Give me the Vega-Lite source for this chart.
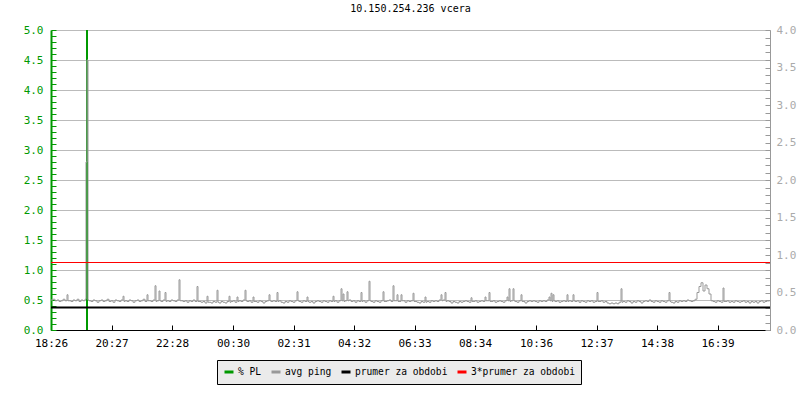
{
"$schema":"https://vega.github.io/schema/vega-lite/v6.json",
"width":719,"height":300,
"autosize":{"type":"none"},
"padding":{"left":51,"top":30,"right":30,"bottom":70},
"background":"white",
"title":{"text":"10.150.254.236 vcera","font":"DejaVu Sans Mono","fontSize":10,"fontWeight":"normal","color":"#000000","offset":10,"frame":"group","anchor":"middle"},
"config":{"view":{"stroke":null},"font":"DejaVu Sans Mono","axis":{"labelFont":"DejaVu Sans Mono","labelFontSize":10,"title":null}},
"datasets":{"ping":[
{"m":0,"p":0.40},{"m":4,"p":0.41},{"m":8,"p":0.39},{"m":12,"p":0.40},{"m":16,"p":0.38},{"m":20,"p":0.39},{"m":24,"p":0.41},{"m":28,"p":0.39},{"m":32,"p":0.47},{"m":36,"p":0.39},
{"m":40,"p":0.38},{"m":44,"p":0.40},{"m":48,"p":0.39},{"m":52,"p":0.41},{"m":56,"p":0.38},{"m":60,"p":0.40},{"m":64,"p":0.39},{"m":68,"p":0.41},{"m":70,"p":2.24},{"m":72,"p":3.6},{"m":74,"p":0.40},{"m":76,"p":0.39},
{"m":80,"p":0.38},{"m":84,"p":0.40},{"m":88,"p":0.39},{"m":92,"p":0.37},{"m":96,"p":0.39},{"m":100,"p":0.40},{"m":104,"p":0.38},{"m":108,"p":0.39},{"m":112,"p":0.41},{"m":116,"p":0.38},
{"m":120,"p":0.39},{"m":124,"p":0.37},{"m":128,"p":0.40},{"m":132,"p":0.39},{"m":136,"p":0.38},{"m":140,"p":0.40},{"m":144,"p":0.45},{"m":148,"p":0.39},{"m":152,"p":0.38},{"m":156,"p":0.40},
{"m":160,"p":0.39},{"m":164,"p":0.37},{"m":168,"p":0.39},{"m":172,"p":0.40},{"m":176,"p":0.38},{"m":180,"p":0.39},{"m":184,"p":0.41},{"m":188,"p":0.38},{"m":192,"p":0.47},{"m":196,"p":0.39},
{"m":200,"p":0.38},{"m":204,"p":0.40},{"m":208,"p":0.59},{"m":212,"p":0.39},{"m":216,"p":0.52},{"m":220,"p":0.38},{"m":224,"p":0.40},{"m":228,"p":0.50},{"m":232,"p":0.39},{"m":236,"p":0.38},
{"m":240,"p":0.40},{"m":244,"p":0.39},{"m":248,"p":0.38},{"m":252,"p":0.40},{"m":256,"p":0.67},{"m":260,"p":0.39},{"m":264,"p":0.38},{"m":268,"p":0.39},{"m":272,"p":0.37},{"m":276,"p":0.39},
{"m":280,"p":0.38},{"m":284,"p":0.40},{"m":288,"p":0.38},{"m":292,"p":0.58},{"m":296,"p":0.38},{"m":300,"p":0.37},{"m":304,"p":0.38},{"m":308,"p":0.36},{"m":312,"p":0.45},{"m":316,"p":0.37},
{"m":320,"p":0.36},{"m":324,"p":0.38},{"m":328,"p":0.37},{"m":332,"p":0.53},{"m":336,"p":0.36},{"m":340,"p":0.38},{"m":344,"p":0.37},{"m":348,"p":0.36},{"m":352,"p":0.38},{"m":356,"p":0.45},
{"m":360,"p":0.38},{"m":364,"p":0.39},{"m":368,"p":0.37},{"m":372,"p":0.44},{"m":376,"p":0.39},{"m":380,"p":0.38},{"m":384,"p":0.40},{"m":388,"p":0.53},{"m":392,"p":0.38},{"m":396,"p":0.39},
{"m":400,"p":0.37},{"m":404,"p":0.44},{"m":408,"p":0.38},{"m":412,"p":0.37},{"m":416,"p":0.39},{"m":420,"p":0.38},{"m":424,"p":0.36},{"m":428,"p":0.38},{"m":432,"p":0.39},{"m":436,"p":0.47},
{"m":440,"p":0.38},{"m":444,"p":0.39},{"m":448,"p":0.38},{"m":452,"p":0.50},{"m":456,"p":0.39},{"m":460,"p":0.37},{"m":464,"p":0.36},{"m":468,"p":0.38},{"m":472,"p":0.37},{"m":476,"p":0.39},
{"m":480,"p":0.38},{"m":484,"p":0.37},{"m":488,"p":0.39},{"m":492,"p":0.51},{"m":496,"p":0.38},{"m":500,"p":0.37},{"m":504,"p":0.39},{"m":508,"p":0.38},{"m":512,"p":0.44},{"m":516,"p":0.37},
{"m":520,"p":0.38},{"m":524,"p":0.36},{"m":528,"p":0.38},{"m":532,"p":0.39},{"m":536,"p":0.38},{"m":540,"p":0.37},{"m":544,"p":0.39},{"m":548,"p":0.38},{"m":552,"p":0.37},{"m":556,"p":0.39},
{"m":560,"p":0.38},{"m":564,"p":0.45},{"m":568,"p":0.39},{"m":572,"p":0.37},{"m":576,"p":0.39},{"m":580,"p":0.55},{"m":584,"p":0.48},{"m":588,"p":0.39},{"m":592,"p":0.51},{"m":596,"p":0.40},
{"m":600,"p":0.38},{"m":604,"p":0.39},{"m":608,"p":0.37},{"m":612,"p":0.39},{"m":616,"p":0.38},{"m":620,"p":0.50},{"m":624,"p":0.39},{"m":628,"p":0.37},{"m":632,"p":0.39},{"m":636,"p":0.65},
{"m":640,"p":0.38},{"m":644,"p":0.37},{"m":648,"p":0.39},{"m":652,"p":0.38},{"m":656,"p":0.37},{"m":660,"p":0.39},{"m":664,"p":0.51},{"m":668,"p":0.38},{"m":672,"p":0.39},{"m":676,"p":0.40},
{"m":680,"p":0.38},{"m":684,"p":0.59},{"m":688,"p":0.39},{"m":692,"p":0.47},{"m":696,"p":0.38},{"m":700,"p":0.47},{"m":704,"p":0.39},{"m":708,"p":0.37},{"m":712,"p":0.39},{"m":716,"p":0.38},
{"m":720,"p":0.39},{"m":724,"p":0.49},{"m":728,"p":0.38},{"m":732,"p":0.37},{"m":736,"p":0.36},{"m":740,"p":0.38},{"m":744,"p":0.37},{"m":748,"p":0.44},{"m":752,"p":0.38},{"m":756,"p":0.37},
{"m":760,"p":0.39},{"m":764,"p":0.38},{"m":768,"p":0.39},{"m":772,"p":0.38},{"m":776,"p":0.40},{"m":780,"p":0.47},{"m":784,"p":0.40},{"m":788,"p":0.50},{"m":792,"p":0.39},{"m":796,"p":0.38},
{"m":800,"p":0.36},{"m":804,"p":0.38},{"m":808,"p":0.37},{"m":812,"p":0.36},{"m":816,"p":0.38},{"m":820,"p":0.37},{"m":824,"p":0.38},{"m":828,"p":0.39},{"m":832,"p":0.38},{"m":836,"p":0.37},
{"m":840,"p":0.43},{"m":844,"p":0.38},{"m":848,"p":0.39},{"m":852,"p":0.37},{"m":856,"p":0.38},{"m":860,"p":0.39},{"m":864,"p":0.38},{"m":868,"p":0.44},{"m":872,"p":0.39},{"m":876,"p":0.50},
{"m":880,"p":0.38},{"m":884,"p":0.39},{"m":888,"p":0.37},{"m":892,"p":0.38},{"m":896,"p":0.39},{"m":900,"p":0.38},{"m":904,"p":0.37},{"m":908,"p":0.39},{"m":912,"p":0.44},{"m":916,"p":0.55},
{"m":920,"p":0.39},{"m":924,"p":0.55},{"m":928,"p":0.38},{"m":932,"p":0.37},{"m":936,"p":0.39},{"m":940,"p":0.47},{"m":944,"p":0.38},{"m":948,"p":0.36},{"m":952,"p":0.38},{"m":956,"p":0.39},
{"m":960,"p":0.38},{"m":964,"p":0.39},{"m":968,"p":0.38},{"m":972,"p":0.37},{"m":976,"p":0.39},{"m":980,"p":0.38},{"m":984,"p":0.39},{"m":988,"p":0.38},{"m":992,"p":0.40},{"m":996,"p":0.44},
{"m":1000,"p":0.49},{"m":1004,"p":0.47},{"m":1008,"p":0.38},{"m":1012,"p":0.39},{"m":1016,"p":0.37},{"m":1020,"p":0.38},{"m":1024,"p":0.39},{"m":1028,"p":0.38},{"m":1032,"p":0.47},{"m":1036,"p":0.39},
{"m":1040,"p":0.38},{"m":1044,"p":0.47},{"m":1048,"p":0.38},{"m":1052,"p":0.39},{"m":1056,"p":0.37},{"m":1060,"p":0.39},{"m":1064,"p":0.38},{"m":1068,"p":0.37},{"m":1072,"p":0.39},{"m":1076,"p":0.38},
{"m":1080,"p":0.39},{"m":1084,"p":0.37},{"m":1088,"p":0.38},{"m":1092,"p":0.50},{"m":1096,"p":0.38},{"m":1100,"p":0.39},{"m":1104,"p":0.37},{"m":1108,"p":0.38},{"m":1112,"p":0.36},{"m":1116,"p":0.35},
{"m":1120,"p":0.36},{"m":1124,"p":0.35},{"m":1128,"p":0.36},{"m":1132,"p":0.35},{"m":1136,"p":0.37},{"m":1140,"p":0.55},{"m":1144,"p":0.38},{"m":1148,"p":0.37},{"m":1152,"p":0.39},{"m":1156,"p":0.38},
{"m":1160,"p":0.36},{"m":1164,"p":0.38},{"m":1168,"p":0.37},{"m":1172,"p":0.39},{"m":1176,"p":0.38},{"m":1180,"p":0.36},{"m":1184,"p":0.38},{"m":1188,"p":0.39},{"m":1192,"p":0.38},{"m":1196,"p":0.40},
{"m":1200,"p":0.38},{"m":1204,"p":0.37},{"m":1208,"p":0.39},{"m":1212,"p":0.38},{"m":1216,"p":0.37},{"m":1220,"p":0.39},{"m":1224,"p":0.38},{"m":1228,"p":0.37},{"m":1232,"p":0.39},{"m":1236,"p":0.50},
{"m":1240,"p":0.37},{"m":1244,"p":0.36},{"m":1248,"p":0.38},{"m":1252,"p":0.37},{"m":1256,"p":0.39},{"m":1260,"p":0.38},{"m":1264,"p":0.39},{"m":1268,"p":0.38},{"m":1272,"p":0.40},{"m":1276,"p":0.39},
{"m":1280,"p":0.38},{"m":1284,"p":0.39},{"m":1288,"p":0.41},{"m":1292,"p":0.50},{"m":1296,"p":0.58},{"m":1300,"p":0.63},{"m":1304,"p":0.52},{"m":1308,"p":0.60},{"m":1312,"p":0.55},{"m":1316,"p":0.48},
{"m":1320,"p":0.39},{"m":1324,"p":0.38},{"m":1328,"p":0.37},{"m":1332,"p":0.39},{"m":1336,"p":0.38},{"m":1340,"p":0.37},{"m":1344,"p":0.56},{"m":1348,"p":0.38},{"m":1352,"p":0.39},{"m":1356,"p":0.37},
{"m":1360,"p":0.38},{"m":1364,"p":0.37},{"m":1368,"p":0.39},{"m":1372,"p":0.38},{"m":1376,"p":0.37},{"m":1380,"p":0.38},{"m":1384,"p":0.39},{"m":1388,"p":0.37},{"m":1392,"p":0.38},{"m":1396,"p":0.36},
{"m":1400,"p":0.38},{"m":1404,"p":0.37},{"m":1408,"p":0.38},{"m":1412,"p":0.36},{"m":1416,"p":0.38},{"m":1420,"p":0.39},{"m":1424,"p":0.37},{"m":1428,"p":0.38},{"m":1432,"p":0.39},{"m":1436,"p":0.38},
{"m":34,"p":0.39},{"m":146,"p":0.38},{"m":194,"p":0.39},{"m":210,"p":0.38},{"m":218,"p":0.39},{"m":230,"p":0.38},{"m":258,"p":0.39},{"m":294,"p":0.38},{"m":314,"p":0.37},{"m":334,"p":0.37},
{"m":358,"p":0.37},{"m":374,"p":0.38},{"m":390,"p":0.39},{"m":406,"p":0.38},{"m":438,"p":0.39},{"m":454,"p":0.38},{"m":494,"p":0.39},{"m":514,"p":0.38},{"m":566,"p":0.38},{"m":582,"p":0.39},
{"m":586,"p":0.38},{"m":594,"p":0.39},{"m":622,"p":0.38},{"m":638,"p":0.39},{"m":666,"p":0.38},{"m":686,"p":0.39},{"m":694,"p":0.38},{"m":702,"p":0.39},{"m":726,"p":0.38},{"m":750,"p":0.37},
{"m":782,"p":0.39},{"m":790,"p":0.38},{"m":842,"p":0.38},{"m":870,"p":0.39},{"m":878,"p":0.38},{"m":914,"p":0.39},{"m":918,"p":0.38},{"m":926,"p":0.39},{"m":942,"p":0.38},{"m":998,"p":0.39},
{"m":1002,"p":0.38},{"m":1006,"p":0.39},{"m":1034,"p":0.38},{"m":1046,"p":0.39},{"m":1094,"p":0.38},{"m":1142,"p":0.37},{"m":1238,"p":0.38},{"m":1346,"p":0.38}
]},
"layer":[
 {"data":{"values":[{"m":72,"pl":100,"s":"% PL"}]},
  "mark":{"type":"rule","strokeWidth":2,"clip":true},
  "encoding":{
   "x":{"field":"m","type":"quantitative","scale":{"domain":[0,1438],"nice":false,"zero":false},
        "axis":{"values":[0,121,242,364,485,606,727,848,970,1091,1212,1333],"labelExpr":"timeFormat(datetime(2024,0,1,18,26+datum.value),'%H:%M')","grid":false,"domainColor":"#000000","domainWidth":1,"tickColor":"#000000","tickSize":-5,"labelPadding":12,"labelColor":"#000000","labelOverlap":false,"labelFlush":false,"labelFontSize":11}},
   "y":{"field":"pl","type":"quantitative","scale":{"domain":[0,5],"nice":false},
        "axis":{"orient":"left","values":[0,0.1,0.2,0.3,0.4,0.5,0.6,0.7,0.8,0.9,1,1.1,1.2,1.3,1.4,1.5,1.6,1.7,1.8,1.9,2,2.1,2.2,2.3,2.4,2.5,2.6,2.7,2.8,2.9,3,3.1,3.2,3.3,3.4,3.5,3.6,3.7,3.8,3.9,4,4.1,4.2,4.3,4.4,4.5,4.6,4.7,4.8,4.9,5],
          "labelExpr":"abs(datum.value*2-round(datum.value*2))<0.001 ? format(datum.value,'.1f') : ''",
          "labelOverlap":false,"labelBound":false,"labelFlush":false,
          "grid":true,"gridColor":"#bbbbbb","gridOpacity":{"condition":{"test":"abs(datum.value*2-round(datum.value*2))<0.001","value":1},"value":0},
          "domainColor":"#009900","domainWidth":2,"tickColor":"#009900","tickSize":-5,"labelPadding":13,"labelColor":"#009900","labelFontSize":11}},
   "y2":{"datum":0},
   "color":{"field":"s","type":"nominal",
      "scale":{"domain":["% PL","avg ping","prumer za obdobi","3*prumer za obdobi"],"range":["#009900","#999999","#000000","#ff0000"]},
      "legend":{"orient":"none","legendX":166,"legendY":330,"direction":"horizontal","columns":4,"title":null,"fillColor":"#ebebeb","strokeColor":"#000000","padding":6,"symbolType":"stroke","symbolStrokeWidth":3,"symbolSize":81,"labelFont":"DejaVu Sans Mono","labelFontSize":9.6,"labelColor":"#000000","labelOffset":3,"columnPadding":3}}
  }},
 {"layer":[
   {"data":{"name":"ping"},
    "mark":{"type":"line","strokeWidth":1,"clip":true,"interpolate":"step-after"},
    "encoding":{
     "x":{"field":"m","type":"quantitative"},
     "y":{"field":"p","type":"quantitative","scale":{"domain":[0,4],"nice":false},
          "axis":{"orient":"right","values":[0,0.1,0.2,0.3,0.4,0.5,0.6,0.7,0.8,0.9,1,1.1,1.2,1.3,1.4,1.5,1.6,1.7,1.8,1.9,2,2.1,2.2,2.3,2.4,2.5,2.6,2.7,2.8,2.9,3,3.1,3.2,3.3,3.4,3.5,3.6,3.7,3.8,3.9,4],
            "labelExpr":"abs(datum.value*2-round(datum.value*2))<0.001 ? format(datum.value,'.1f') : ''",
            "labelOverlap":false,"labelBound":false,"labelFlush":false,"grid":false,
            "domainColor":"#999999","domainWidth":1,"tickColor":"#999999","tickSize":-5,"labelPadding":11,"labelColor":"#aaaaaa","labelFontSize":11}},
     "color":{"datum":"avg ping"}
    }},
   {"data":{"values":[{"p":0.3}]},
    "mark":{"type":"rule","strokeWidth":2},
    "encoding":{"y":{"field":"p","type":"quantitative","scale":{"domain":[0,4],"nice":false},
          "axis":{"orient":"right","values":[0,0.1,0.2,0.3,0.4,0.5,0.6,0.7,0.8,0.9,1,1.1,1.2,1.3,1.4,1.5,1.6,1.7,1.8,1.9,2,2.1,2.2,2.3,2.4,2.5,2.6,2.7,2.8,2.9,3,3.1,3.2,3.3,3.4,3.5,3.6,3.7,3.8,3.9,4],
            "labelExpr":"abs(datum.value*2-round(datum.value*2))<0.001 ? format(datum.value,'.1f') : ''",
            "labelOverlap":false,"labelBound":false,"labelFlush":false,"grid":false,
            "domainColor":"#999999","domainWidth":1,"tickColor":"#999999","tickSize":-5,"labelPadding":11,"labelColor":"#aaaaaa","labelFontSize":11}},"color":{"datum":"prumer za obdobi"}}},
   {"data":{"values":[{"p":0.9}]},
    "mark":{"type":"rule","strokeWidth":1},
    "encoding":{"y":{"field":"p","type":"quantitative","scale":{"domain":[0,4],"nice":false},
          "axis":{"orient":"right","values":[0,0.1,0.2,0.3,0.4,0.5,0.6,0.7,0.8,0.9,1,1.1,1.2,1.3,1.4,1.5,1.6,1.7,1.8,1.9,2,2.1,2.2,2.3,2.4,2.5,2.6,2.7,2.8,2.9,3,3.1,3.2,3.3,3.4,3.5,3.6,3.7,3.8,3.9,4],
            "labelExpr":"abs(datum.value*2-round(datum.value*2))<0.001 ? format(datum.value,'.1f') : ''",
            "labelOverlap":false,"labelBound":false,"labelFlush":false,"grid":false,
            "domainColor":"#999999","domainWidth":1,"tickColor":"#999999","tickSize":-5,"labelPadding":11,"labelColor":"#aaaaaa","labelFontSize":11}},"color":{"datum":"3*prumer za obdobi"}}}
 ]}
],
"resolve":{"scale":{"y":"independent"},"axis":{"y":"independent"}}
}
